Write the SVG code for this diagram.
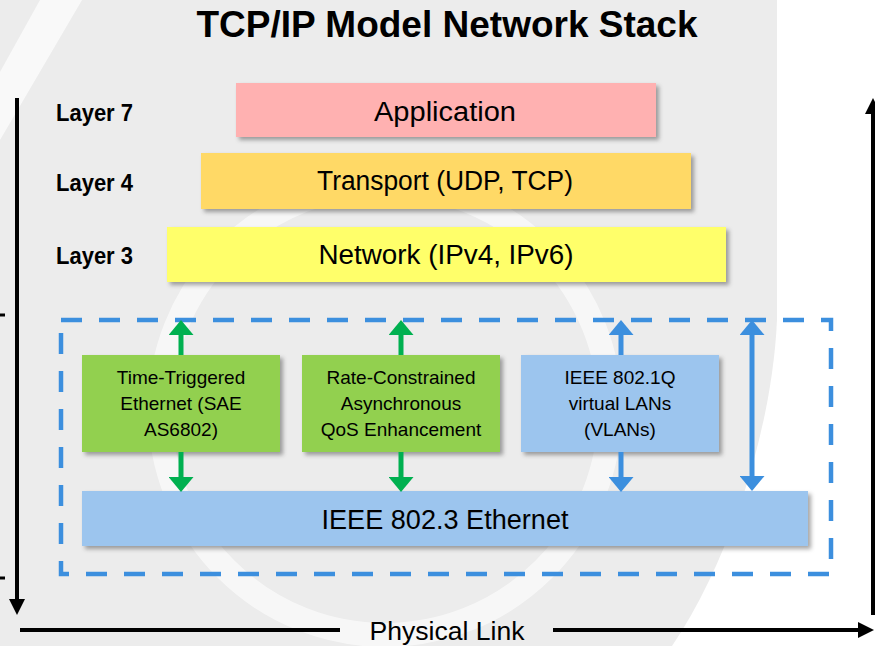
<svg xmlns="http://www.w3.org/2000/svg" width="875" height="646" viewBox="0 0 875 646">
  <style>
    text { font-family: "Liberation Sans", Arial, sans-serif; fill: #000; }
    .title { font-size: 37px; font-weight: bold; text-anchor: middle; }
    .layer { font-size: 23px; font-weight: bold; }
    .big { font-size: 27px; text-anchor: middle; }
    .small { font-size: 19px; text-anchor: middle; }
    .box { filter: url(#sh); }
    .green { fill: #92d050; }
    .blue { fill: #9cc5ee; }
    .garr { stroke: #00b050; stroke-width: 5; fill: none; }
    .barr { stroke: #3c8fde; stroke-width: 5; fill: none; }
    .karr { stroke: #000; stroke-width: 4; fill: none; }
  </style>
  <defs>
    <filter id="sh" x="-10%" y="-20%" width="130%" height="150%">
      <feDropShadow dx="3" dy="3" stdDeviation="2" flood-color="#000" flood-opacity="0.35"/>
    </filter>
    <marker id="gh" viewBox="0 0 15 25" refX="0" refY="12.5" markerWidth="15" markerHeight="25" markerUnits="userSpaceOnUse" orient="auto-start-reverse">
      <path d="M0,0 L15,12.5 L0,25 Z" fill="#00b050"/>
    </marker>
    <marker id="bh" viewBox="0 0 15 25" refX="0" refY="12.5" markerWidth="15" markerHeight="25" markerUnits="userSpaceOnUse" orient="auto-start-reverse">
      <path d="M0,0 L15,12.5 L0,25 Z" fill="#3c8fde"/>
    </marker>
    <marker id="kh" viewBox="0 0 16 16" refX="0" refY="8" markerWidth="16" markerHeight="16" markerUnits="userSpaceOnUse" orient="auto">
      <path d="M0,0 L16,8 L0,16 Z" fill="#000"/>
    </marker>
  </defs>

  <!-- background watermark -->
  <g id="background">
    <rect x="0" y="0" width="875" height="646" fill="#ffffff"/>
    <path d="M0,0 H777 V320 C772,430 730,560 672,646 H0 Z" fill="#ececec"/>
    <circle cx="385" cy="410" r="225" fill="none" stroke="#ffffff" stroke-width="24" opacity="0.6"/>
    <path d="M40,0 L82,0 L0,140 L0,72 Z" fill="#ffffff" opacity="0.7"/>
  </g>

  <text class="title" x="447" y="37">TCP/IP Model Network Stack</text>

  <g id="layer-labels">
    <text class="layer" x="56" y="121" textLength="77" lengthAdjust="spacingAndGlyphs">Layer 7</text>
    <text class="layer" x="56" y="191" textLength="77" lengthAdjust="spacingAndGlyphs">Layer 4</text>
    <text class="layer" x="56" y="264" textLength="77" lengthAdjust="spacingAndGlyphs">Layer 3</text>
  </g>

  <g id="application">
    <rect class="box" x="236" y="83" width="420" height="54" fill="#ffb1b1"/>
    <text class="big" x="445" y="121" textLength="142" lengthAdjust="spacingAndGlyphs">Application</text>
  </g>
  <g id="transport">
    <rect class="box" x="201" y="153" width="490" height="56" fill="#ffd966"/>
    <text class="big" x="445" y="190" textLength="256" lengthAdjust="spacingAndGlyphs">Transport (UDP, TCP)</text>
  </g>
  <g id="network">
    <rect class="box" x="167" y="227" width="559" height="55" fill="#ffff6b"/>
    <text class="big" x="446" y="264" textLength="255" lengthAdjust="spacingAndGlyphs">Network (IPv4, IPv6)</text>
  </g>

  <g id="link-layer-frame">
    <rect x="61" y="320" width="770" height="254" fill="none" stroke="#3c8fde" stroke-width="4.5" stroke-dasharray="21 17"/>
  </g>

  <g id="tte">
    <rect class="box green" x="82" y="355" width="198" height="97"/>
    <text class="small" x="181" y="384">Time-Triggered</text>
    <text class="small" x="181" y="410">Ethernet (SAE</text>
    <text class="small" x="181" y="435.5">AS6802)</text>
  </g>
  <g id="rc">
    <rect class="box green" x="302" y="355" width="198" height="97"/>
    <text class="small" x="401" y="384">Rate-Constrained</text>
    <text class="small" x="401" y="409.5">Asynchronous</text>
    <text class="small" x="401" y="435.5">QoS Enhancement</text>
  </g>
  <g id="vlan">
    <rect class="box blue" x="521" y="355" width="198" height="97"/>
    <text class="small" x="620" y="384">IEEE 802.1Q</text>
    <text class="small" x="620" y="409.5">virtual LANs</text>
    <text class="small" x="620" y="435.5">(VLANs)</text>
  </g>
  <g id="ethernet">
    <rect class="box blue" x="82" y="491" width="726" height="55"/>
    <text class="big" x="445" y="529" textLength="247" lengthAdjust="spacingAndGlyphs">IEEE 802.3 Ethernet</text>
  </g>

  <g id="connectors">
    <line class="garr" x1="181" y1="355" x2="181" y2="335" marker-end="url(#gh)"/>
    <line class="garr" x1="181" y1="452" x2="181" y2="477" marker-end="url(#gh)"/>
    <line class="garr" x1="401" y1="355" x2="401" y2="335" marker-end="url(#gh)"/>
    <line class="garr" x1="401" y1="452" x2="401" y2="477" marker-end="url(#gh)"/>
    <line class="barr" x1="621" y1="355" x2="621" y2="335" marker-end="url(#bh)"/>
    <line class="barr" x1="621" y1="452" x2="621" y2="477" marker-end="url(#bh)"/>
    <line class="barr" x1="752" y1="335" x2="752" y2="476" marker-start="url(#bh)" marker-end="url(#bh)"/>

    <line class="karr" x1="17" y1="98" x2="17" y2="599" marker-end="url(#kh)"/>
    <line class="karr" x1="873" y1="615" x2="873" y2="114" marker-end="url(#kh)"/>
    <line class="karr" x1="20" y1="630" x2="340" y2="630"/>
    <line class="karr" x1="553" y1="630" x2="858" y2="630" marker-end="url(#kh)"/>
    <line stroke="#000" stroke-width="3" x1="0" y1="315" x2="5" y2="315"/>
    <line stroke="#000" stroke-width="3" x1="0" y1="578" x2="5" y2="578"/>
  </g>

  <text x="447" y="640" style="font-size:26px; text-anchor:middle" textLength="155" lengthAdjust="spacingAndGlyphs">Physical Link</text>
</svg>
